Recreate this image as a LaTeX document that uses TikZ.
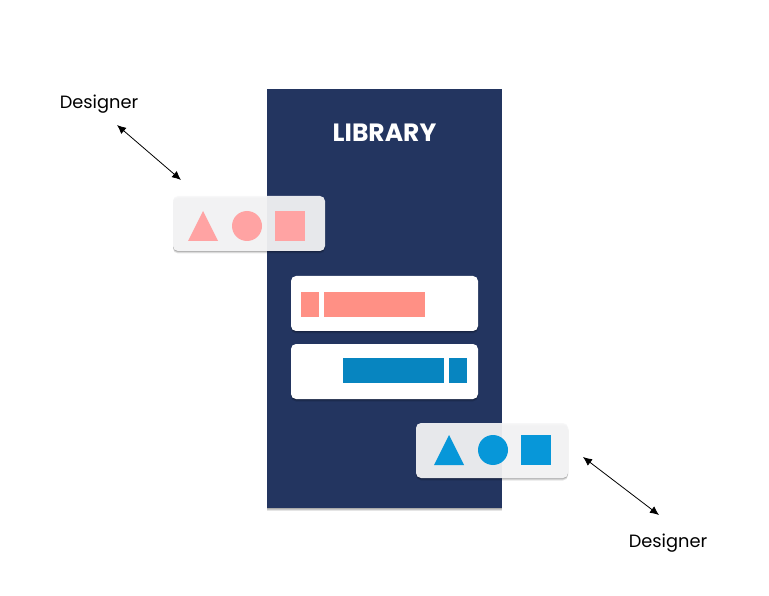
\documentclass[tikz,border=0pt]{standalone}
\usepackage{fontspec}
\setmainfont{Poppins}
\usetikzlibrary{positioning}
\usetikzlibrary{arrows.meta}
\usetikzlibrary{shadows}
\usetikzlibrary{shapes.geometric}
\definecolor{navy}{HTML}{233560}
\definecolor{rosepale}{HTML}{FFA3A3}
\definecolor{rosebar}{HTML}{FF9085}
\definecolor{skyblue}{HTML}{0797D9}
\definecolor{bluebar}{HTML}{0785C0}
\definecolor{glass}{HTML}{F8F8F9}
\tikzset{basic/.style={inner sep=0pt,outer sep=0pt}}
\tikzset{lowshadow/.style={drop shadow={shadow xshift=0pt,shadow yshift=-2.5pt,opacity=.10,fill=black},drop shadow={shadow xshift=0pt,shadow yshift=-1.5pt,opacity=.13,fill=black},drop shadow={shadow xshift=0pt,shadow yshift=-0.7pt,opacity=.14,fill=black}}}
\tikzset{panel/.style={basic,fill=navy,minimum width=235pt,minimum height=419pt,lowshadow}}
\tikzset{card/.style={basic,fill=white,rounded corners=5pt,minimum width=187pt,minimum height=55pt,lowshadow}}
\tikzset{palette/.style={basic,fill=glass,fill opacity=.926,rounded corners=5pt,minimum width=152pt,minimum height=55pt,lowshadow}}
\tikzset{bar/.style={basic,minimum height=25pt}}
\tikzset{sq/.style={basic,minimum size=30pt}}
\tikzset{disc/.style={basic,circle,minimum size=30pt}}
\tikzset{tri/.style={basic,isosceles triangle,isosceles triangle apex angle=53,isosceles triangle stretches,shape border rotate=90,minimum width=30pt,minimum height=30pt}}
\tikzset{person/.style={basic,font=\fontsize{17.8}{21}\selectfont,text=black}}
\tikzset{link/.style={draw,black,line width=0.8pt,{Latex[length=9pt,width=8pt]}-{Latex[length=9pt,width=8pt]}}}

\begin{document}
\begin{tikzpicture}[x=1pt,y=-1pt]
        \useasboundingbox[fill=white] (0,0) rectangle (769,596);
        \node[panel] (library) at (384.5,298.5) {};
        \node[basic,text=white,font=\fontsize{25}{30}\selectfont\bfseries] (title) at (384.5,133) {LIBRARY};
        \node[card] (card1) at (384.5,303.5) {};
        \node[card,below=13pt of card1] (card2) {};
        \node[bar,fill=rosebar,minimum width=18pt,anchor=west] (red1) at ([xshift=10pt,yshift=-1pt]card1.west) {};
        \node[bar,fill=rosebar,minimum width=101pt,right=5pt of red1] (red2) {};
        \node[bar,fill=bluebar,minimum width=18pt,anchor=east] (blue1) at ([xshift=-11pt,yshift=1pt]card2.east) {};
        \node[bar,fill=bluebar,minimum width=101pt,left=5pt of blue1] (blue2) {};
        % top left palette
        \node[palette] (pal1) at (249,223.5) {};
        \node[sq,fill=rosepale,anchor=east] (sq1) at ([xshift=-20pt,yshift=-2.5pt]pal1.east) {};
        \node[disc,fill=rosepale,left=13pt of sq1] (circ1) {};
        \node[tri,fill=rosepale,anchor=apex] (tri1) at (203,211) {};
        % bottom right palette
        \node[palette] (pal2) at (492,450.5) {};
        \node[sq,fill=skyblue,anchor=east] (sq2) at ([xshift=-17pt,yshift=0.5pt]pal2.east) {};
        \node[disc,fill=skyblue,left=13pt of sq2] (circ2) {};
        \node[tri,fill=skyblue,anchor=apex] (tri2) at (449,435) {};
        % designers
        \node[person] (des1) at (99,104) {Designer};
        \node[person] (des2) at (668,543) {Designer};
        \coordinate (end1a) at (117,125);
        \coordinate (end1b) at (181,180);
        \coordinate (end2a) at (583,457);
        \coordinate (end2b) at (659,515);
            \path[link] (end1a) -- (end1b);
            \path[link] (end2a) -- (end2b);
    \end{tikzpicture}
\end{document}
